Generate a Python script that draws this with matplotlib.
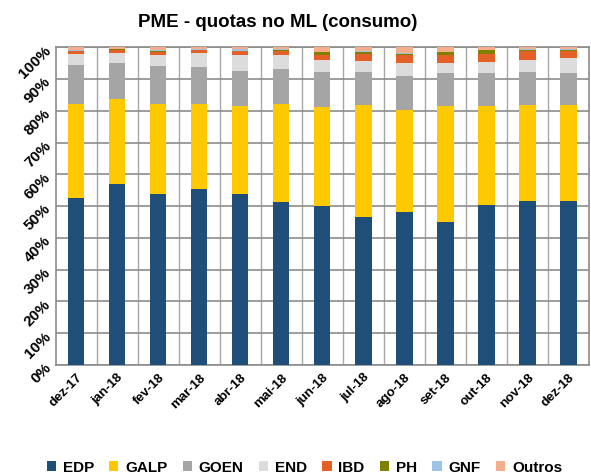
import matplotlib
matplotlib.use("Agg")
import matplotlib.pyplot as plt
import numpy as np
from matplotlib.ticker import FixedLocator, PercentFormatter

plt.rcParams['font.family'] = ['Liberation Sans', 'DejaVu Sans']

months = ["dez-17", "jan-18", "fev-18", "mar-18", "abr-18", "mai-18", "jun-18",
          "jul-18", "ago-18", "set-18", "out-18", "nov-18", "dez-18"]

EDP    = [52.4, 57.0, 53.8, 55.4, 53.8, 51.4, 49.9, 46.5, 48.0, 44.9, 50.4, 51.5, 51.5]
GALP   = [29.8, 26.7, 28.4, 26.8, 27.7, 30.8, 31.2, 35.3, 32.3, 36.6, 31.1, 30.4, 30.4]
GOEN   = [12.2, 11.3, 11.9, 11.6, 11.0, 10.8, 11.1, 10.4, 10.6, 10.4, 10.4, 10.3, 10.0]
END    = [3.4, 3.1, 3.5, 4.4, 4.9, 4.4, 3.9, 3.5, 4.1, 3.1, 3.5, 3.9, 4.6]
IBD    = [1.0, 0.9, 1.0, 0.8, 1.4, 1.4, 1.5, 2.3, 2.4, 2.6, 2.6, 2.7, 2.4]
PH     = [0.1, 0.3, 0.1, 0.2, 0.1, 0.3, 0.8, 0.5, 0.3, 0.8, 1.0, 0.2, 0.2]
GNF    = [0.1, 0.2, 0.3, 0.2, 0.4, 0.2, 0.2, 0.2, 0.5, 0.2, 0.1, 0.4, 0.4]
Outros = [1.0, 0.5, 1.0, 0.6, 0.7, 0.7, 1.4, 1.3, 1.8, 1.4, 0.9, 0.6, 0.5]

series = [("EDP", EDP, "#1F4E79"), ("GALP", GALP, "#FFC900"), ("GOEN", GOEN, "#A5A5A5"),
          ("END", END, "#DCDCDC"), ("IBD", IBD, "#E46026"), ("PH", PH, "#7F7F00"),
          ("GNF", GNF, "#9DC3E6"), ("Outros", Outros, "#F4AE8C")]

fig = plt.figure(figsize=(5.91, 4.77), dpi=100)
ax = fig.add_axes([0.094, 0.2327, 0.9026, 0.6663])

x = np.arange(len(months))
totals = np.sum([np.array(v) for _, v, _ in series], axis=0)
bottom = np.zeros(len(months))
handles = []
for name, vals, col in series:
    v = np.array(vals) / totals * 100
    b = ax.bar(x, v, width=0.4, bottom=bottom, color=col, label=name,
               edgecolor='none', zorder=3)
    handles.append(b)
    bottom += v

ax.set_xlim(-0.5, len(months) - 0.5)
ax.set_ylim(0, 100)
ax.yaxis.set_major_locator(FixedLocator(np.arange(0, 101, 10)))
ax.yaxis.set_major_formatter(PercentFormatter(decimals=0))
ax.xaxis.set_major_locator(FixedLocator(x))
ax.xaxis.set_minor_locator(FixedLocator(x[:-1] + 0.5))
ax.set_xticklabels(months)
ax.grid(axis='y', which='major', color='#8C8C8C', linewidth=1.2, zorder=0)
ax.grid(axis='x', which='minor', color='#A8A8A8', linewidth=1.0, zorder=0)
ax.tick_params(axis='both', which='both', length=0)
ax.tick_params(axis='x', pad=4)
ax.tick_params(axis='y', pad=5)
for sp in ax.spines.values():
    sp.set_color('#8C8C8C')
    sp.set_linewidth(1.2)

for lab in ax.get_xticklabels():
    lab.set_rotation(45)
    lab.set_ha('right')
    lab.set_va('top')
    lab.set_rotation_mode('anchor')
    lab.set_fontsize(9.5)
    lab.set_fontweight('bold')
for lab in ax.get_yticklabels():
    lab.set_rotation(45)
    lab.set_ha('right')
    lab.set_va('center')
    lab.set_rotation_mode('anchor')
    lab.set_fontsize(11)
    lab.set_fontweight('bold')

fig.text(0.47, 0.953, "PME - quotas no ML (consumo)", ha='center', va='center',
         fontsize=13.5, fontweight='bold')

leg = fig.legend(handles=handles, labels=[s[0] for s in series], loc='center',
                 bbox_to_anchor=(0.515, 0.018), ncol=8, frameon=False,
                 handlelength=0.6, handleheight=0.6, handletextpad=0.45,
                 columnspacing=1.0, prop={'weight': 'bold', 'size': 11})

fig.savefig("out.png", dpi=100)
